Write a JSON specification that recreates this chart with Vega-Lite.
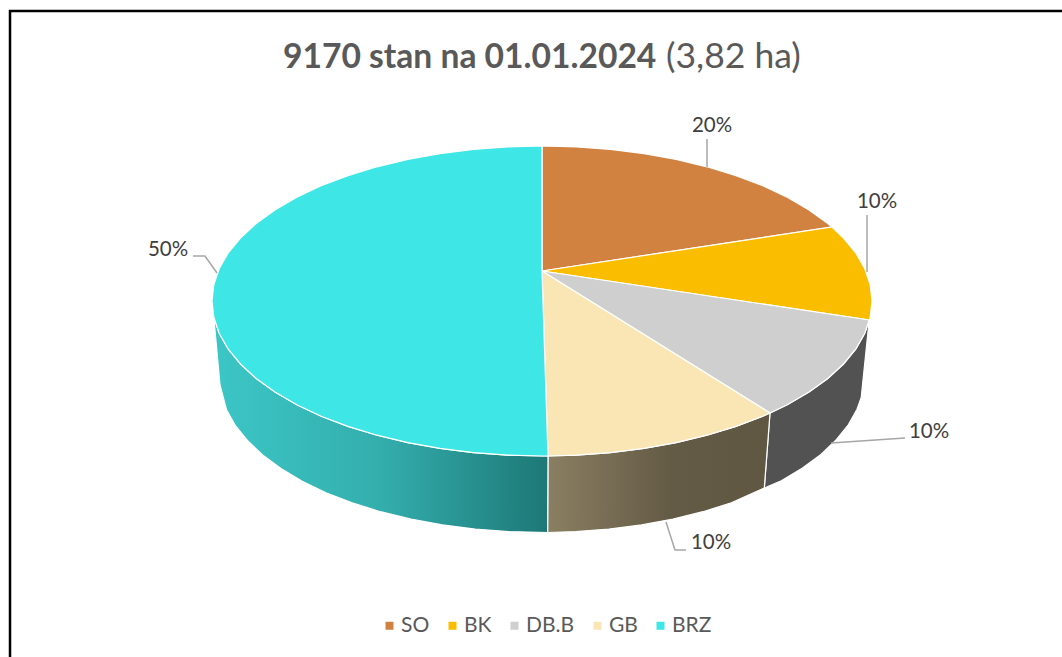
{"$schema":"https://vega.github.io/schema/vega-lite/v6.json","width":1062,"height":657,"autosize":{"type":"none"},"padding":0,"background":"#ffffff","config":{"view":{"stroke":null}},
"datasets":{"outline":[
{"part":"top","slice":"SO","i":0,"x":542,"y":271},{"part":"top","slice":"SO","i":1,"x":542,"y":146},{"part":"top","slice":"SO","i":2,"x":576.5,"y":146.9},{"part":"top","slice":"SO","i":3,"x":610.6,"y":149.4},{"part":"top","slice":"SO","i":4,"x":644,"y":153.6},{"part":"top","slice":"SO","i":5,"x":676.2,"y":159.4},{"part":"top","slice":"SO","i":6,"x":707,"y":166.8},{"part":"top","slice":"SO","i":7,"x":736,"y":175.6},{"part":"top","slice":"SO","i":8,"x":762.8,"y":185.8},{"part":"top","slice":"SO","i":9,"x":787.2,"y":197.3},{"part":"top","slice":"SO","i":10,"x":809,"y":209.9},{"part":"top","slice":"SO","i":11,"x":827.8,"y":223.5},{"part":"top","slice":"SO","i":12,"x":832,"y":227},{"part":"top","slice":"SO","i":13,"x":542,"y":271},
{"part":"top","slice":"BK","i":0,"x":542,"y":271},{"part":"top","slice":"BK","i":1,"x":832,"y":227},{"part":"top","slice":"BK","i":2,"x":843.5,"y":238},{"part":"top","slice":"BK","i":3,"x":855.9,"y":253.1},{"part":"top","slice":"BK","i":4,"x":864.8,"y":268.8},{"part":"top","slice":"BK","i":5,"x":870.2,"y":284.8},{"part":"top","slice":"BK","i":6,"x":872,"y":301},{"part":"top","slice":"BK","i":7,"x":870.2,"y":317.2},{"part":"top","slice":"BK","i":8,"x":869.2,"y":320},{"part":"top","slice":"BK","i":9,"x":542,"y":271},
{"part":"top","slice":"DB.B","i":0,"x":542,"y":271},{"part":"top","slice":"DB.B","i":1,"x":869.2,"y":320},{"part":"top","slice":"DB.B","i":2,"x":864.8,"y":333.2},{"part":"top","slice":"DB.B","i":3,"x":855.9,"y":348.9},{"part":"top","slice":"DB.B","i":4,"x":843.5,"y":364},{"part":"top","slice":"DB.B","i":5,"x":827.8,"y":378.5},{"part":"top","slice":"DB.B","i":6,"x":809,"y":392.1},{"part":"top","slice":"DB.B","i":7,"x":787.2,"y":404.7},{"part":"top","slice":"DB.B","i":8,"x":770,"y":413},{"part":"top","slice":"DB.B","i":9,"x":542,"y":271},
{"part":"top","slice":"GB","i":0,"x":542,"y":271},{"part":"top","slice":"GB","i":1,"x":770,"y":413},{"part":"top","slice":"GB","i":2,"x":762.8,"y":416.2},{"part":"top","slice":"GB","i":3,"x":736,"y":426.4},{"part":"top","slice":"GB","i":4,"x":707,"y":435.2},{"part":"top","slice":"GB","i":5,"x":676.2,"y":442.6},{"part":"top","slice":"GB","i":6,"x":644,"y":448.4},{"part":"top","slice":"GB","i":7,"x":610.6,"y":452.6},{"part":"top","slice":"GB","i":8,"x":576.5,"y":455.1},{"part":"top","slice":"GB","i":9,"x":548,"y":456},{"part":"top","slice":"GB","i":10,"x":542,"y":271},
{"part":"top","slice":"BRZ","i":0,"x":542,"y":271},{"part":"top","slice":"BRZ","i":1,"x":548,"y":456},{"part":"top","slice":"BRZ","i":2,"x":542,"y":456},{"part":"top","slice":"BRZ","i":3,"x":507.5,"y":455.1},{"part":"top","slice":"BRZ","i":4,"x":473.4,"y":452.6},{"part":"top","slice":"BRZ","i":5,"x":440,"y":448.4},{"part":"top","slice":"BRZ","i":6,"x":407.8,"y":442.6},{"part":"top","slice":"BRZ","i":7,"x":377,"y":435.2},{"part":"top","slice":"BRZ","i":8,"x":348,"y":426.4},{"part":"top","slice":"BRZ","i":9,"x":321.2,"y":416.2},{"part":"top","slice":"BRZ","i":10,"x":296.8,"y":404.7},{"part":"top","slice":"BRZ","i":11,"x":275,"y":392.1},{"part":"top","slice":"BRZ","i":12,"x":256.2,"y":378.5},{"part":"top","slice":"BRZ","i":13,"x":240.5,"y":364},{"part":"top","slice":"BRZ","i":14,"x":228.1,"y":348.9},{"part":"top","slice":"BRZ","i":15,"x":219.2,"y":333.2},{"part":"top","slice":"BRZ","i":16,"x":213.8,"y":317.2},{"part":"top","slice":"BRZ","i":17,"x":212,"y":301},{"part":"top","slice":"BRZ","i":18,"x":213.8,"y":284.8},{"part":"top","slice":"BRZ","i":19,"x":219.2,"y":268.8},{"part":"top","slice":"BRZ","i":20,"x":228.1,"y":253.1},{"part":"top","slice":"BRZ","i":21,"x":240.5,"y":238},{"part":"top","slice":"BRZ","i":22,"x":256.2,"y":223.5},{"part":"top","slice":"BRZ","i":23,"x":275,"y":209.9},{"part":"top","slice":"BRZ","i":24,"x":296.8,"y":197.3},{"part":"top","slice":"BRZ","i":25,"x":321.2,"y":185.8},{"part":"top","slice":"BRZ","i":26,"x":348,"y":175.6},{"part":"top","slice":"BRZ","i":27,"x":377,"y":166.8},{"part":"top","slice":"BRZ","i":28,"x":407.8,"y":159.4},{"part":"top","slice":"BRZ","i":29,"x":440,"y":153.6},{"part":"top","slice":"BRZ","i":30,"x":473.4,"y":149.4},{"part":"top","slice":"BRZ","i":31,"x":507.5,"y":146.9},{"part":"top","slice":"BRZ","i":32,"x":542,"y":146},{"part":"top","slice":"BRZ","i":33,"x":542,"y":271},
{"part":"side","slice":"DB.B","i":0,"x":869.2,"y":320},{"part":"side","slice":"DB.B","i":1,"x":864.8,"y":333.2},{"part":"side","slice":"DB.B","i":2,"x":855.9,"y":348.9},{"part":"side","slice":"DB.B","i":3,"x":843.5,"y":364},{"part":"side","slice":"DB.B","i":4,"x":827.8,"y":378.5},{"part":"side","slice":"DB.B","i":5,"x":809,"y":392.1},{"part":"side","slice":"DB.B","i":6,"x":787.2,"y":404.7},{"part":"side","slice":"DB.B","i":7,"x":770,"y":413},{"part":"side","slice":"DB.B","i":8,"x":764.3,"y":488},{"part":"side","slice":"DB.B","i":9,"x":781.3,"y":480.7},{"part":"side","slice":"DB.B","i":10,"x":802.5,"y":468.1},{"part":"side","slice":"DB.B","i":11,"x":820.9,"y":454.5},{"part":"side","slice":"DB.B","i":12,"x":836.1,"y":440},{"part":"side","slice":"DB.B","i":13,"x":848.3,"y":424.9},{"part":"side","slice":"DB.B","i":14,"x":857,"y":409.2},{"part":"side","slice":"DB.B","i":15,"x":861.2,"y":397.5},{"part":"side","slice":"DB.B","i":16,"x":869.2,"y":320},
{"part":"side","slice":"GB","i":0,"x":770,"y":413},{"part":"side","slice":"GB","i":1,"x":762.8,"y":416.2},{"part":"side","slice":"GB","i":2,"x":736,"y":426.4},{"part":"side","slice":"GB","i":3,"x":707,"y":435.2},{"part":"side","slice":"GB","i":4,"x":676.2,"y":442.6},{"part":"side","slice":"GB","i":5,"x":644,"y":448.4},{"part":"side","slice":"GB","i":6,"x":610.6,"y":452.6},{"part":"side","slice":"GB","i":7,"x":576.5,"y":455.1},{"part":"side","slice":"GB","i":8,"x":548,"y":456},{"part":"side","slice":"GB","i":9,"x":547.6,"y":532.5},{"part":"side","slice":"GB","i":10,"x":575.6,"y":531.6},{"part":"side","slice":"GB","i":11,"x":608.9,"y":529.1},{"part":"side","slice":"GB","i":12,"x":641.5,"y":524.9},{"part":"side","slice":"GB","i":13,"x":673,"y":519.1},{"part":"side","slice":"GB","i":14,"x":703,"y":511.7},{"part":"side","slice":"GB","i":15,"x":731.3,"y":502.9},{"part":"side","slice":"GB","i":16,"x":757.5,"y":491},{"part":"side","slice":"GB","i":17,"x":764.3,"y":488},{"part":"side","slice":"GB","i":18,"x":770,"y":413},
{"part":"side","slice":"BRZ","i":0,"x":548,"y":456},{"part":"side","slice":"BRZ","i":1,"x":542,"y":456},{"part":"side","slice":"BRZ","i":2,"x":507.5,"y":455.1},{"part":"side","slice":"BRZ","i":3,"x":473.4,"y":452.6},{"part":"side","slice":"BRZ","i":4,"x":440,"y":448.4},{"part":"side","slice":"BRZ","i":5,"x":407.8,"y":442.6},{"part":"side","slice":"BRZ","i":6,"x":377,"y":435.2},{"part":"side","slice":"BRZ","i":7,"x":348,"y":426.4},{"part":"side","slice":"BRZ","i":8,"x":321.2,"y":416.2},{"part":"side","slice":"BRZ","i":9,"x":296.8,"y":404.7},{"part":"side","slice":"BRZ","i":10,"x":275,"y":392.1},{"part":"side","slice":"BRZ","i":11,"x":256.2,"y":378.5},{"part":"side","slice":"BRZ","i":12,"x":240.5,"y":364},{"part":"side","slice":"BRZ","i":13,"x":228.1,"y":348.9},{"part":"side","slice":"BRZ","i":14,"x":219.2,"y":333.2},{"part":"side","slice":"BRZ","i":15,"x":213.8,"y":317.2},{"part":"side","slice":"BRZ","i":16,"x":220,"y":385},{"part":"side","slice":"BRZ","i":17,"x":226.5,"y":409.7},{"part":"side","slice":"BRZ","i":18,"x":235.2,"y":425.4},{"part":"side","slice":"BRZ","i":19,"x":247.4,"y":440.5},{"part":"side","slice":"BRZ","i":20,"x":262.6,"y":455},{"part":"side","slice":"BRZ","i":21,"x":281,"y":468.6},{"part":"side","slice":"BRZ","i":22,"x":302.2,"y":481.2},{"part":"side","slice":"BRZ","i":23,"x":326,"y":492.7},{"part":"side","slice":"BRZ","i":24,"x":352.2,"y":502.9},{"part":"side","slice":"BRZ","i":25,"x":380.5,"y":511.7},{"part":"side","slice":"BRZ","i":26,"x":411,"y":519.1},{"part":"side","slice":"BRZ","i":27,"x":442.5,"y":524.9},{"part":"side","slice":"BRZ","i":28,"x":475.1,"y":529.1},{"part":"side","slice":"BRZ","i":29,"x":508.4,"y":531.6},{"part":"side","slice":"BRZ","i":30,"x":547.6,"y":532.5},{"part":"side","slice":"BRZ","i":31,"x":548,"y":456}
],
"leaders":[
{"slice":"SO","i":0,"x":707,"y":139},{"slice":"SO","i":1,"x":707,"y":167},
{"slice":"BK","i":0,"x":867,"y":215},{"slice":"BK","i":1,"x":867,"y":272},
{"slice":"DB.B","i":0,"x":831,"y":443},{"slice":"DB.B","i":1,"x":905,"y":438},
{"slice":"GB","i":0,"x":666,"y":522},{"slice":"GB","i":1,"x":675,"y":550},{"slice":"GB","i":2,"x":686,"y":550},
{"slice":"BRZ","i":0,"x":193,"y":256},{"slice":"BRZ","i":1,"x":205,"y":256},{"slice":"BRZ","i":2,"x":217,"y":273}
],
"frame":[{"i":0,"x":10,"y":657},{"i":1,"x":10,"y":11},{"i":2,"x":1062,"y":11}],
"labels":[{"label":"20%","x":712,"y":126},{"label":"10%","x":877,"y":202},{"label":"10%","x":929,"y":432},{"label":"10%","x":711,"y":543},{"label":"50%","x":168,"y":250}],
"titleBold":[{"label":"9170 stan na 01.01.2024","x":283,"y":68}],
"titleReg":[{"label":"(3,82 ha)","x":666,"y":68}]
},
"encoding":{"x":{"field":"x","type":"quantitative","axis":null,"scale":{"domain":[0,1062],"nice":false,"zero":false}},"y":{"field":"y","type":"quantitative","axis":null,"scale":{"domain":[657,0],"nice":false,"zero":false}}},
"layer":[
{"data":{"name":"frame"},"mark":{"type":"line","stroke":"#000000","strokeWidth":2.5,"strokeCap":"butt"},"encoding":{"order":{"field":"i"}}},
{"data":{"name":"outline"},"transform":[{"filter":"datum.part==='side' && datum.slice==='DB.B'"}],"mark":{"type":"line","fill":"#525252","stroke":"#ffffff","strokeWidth":1.2},"encoding":{"order":{"field":"i"}}},
{"data":{"name":"outline"},"transform":[{"filter":"datum.part==='side' && datum.slice==='GB'"}],"mark":{"type":"line","fill":{"gradient":"linear","x1":0,"y1":0,"x2":1,"y2":0,"stops":[{"offset":0,"color":"#8A7F62"},{"offset":0.55,"color":"#645B46"},{"offset":1,"color":"#5F5742"}]},"stroke":"#ffffff","strokeWidth":1.2},"encoding":{"order":{"field":"i"}}},
{"data":{"name":"outline"},"transform":[{"filter":"datum.part==='side' && datum.slice==='BRZ'"}],"mark":{"type":"line","fill":{"gradient":"linear","x1":0,"y1":0,"x2":1,"y2":0,"stops":[{"offset":0,"color":"#3CC6C6"},{"offset":0.5,"color":"#33AEAD"},{"offset":1,"color":"#1D7876"}]},"stroke":"#ffffff","strokeWidth":1.2},"encoding":{"order":{"field":"i"}}},
{"data":{"name":"outline"},"transform":[{"filter":"datum.part==='top'"}],"mark":{"type":"line","stroke":"#ffffff","strokeWidth":1.2},"encoding":{"order":{"field":"i"},"fill":{"field":"slice","type":"nominal","scale":{"domain":["SO","BK","DB.B","GB","BRZ"],"range":["#D28240","#FBBD00","#CFCFCF","#FAE6B4","#3EE6E6"]},"legend":{"orient":"none","legendX":379,"legendY":615,"direction":"horizontal","columns":5,"title":null,"symbolType":"square","symbolSize":64,"symbolStrokeWidth":0,"labelFont":"Lato","labelFontSize":21,"labelColor":"#595959","labelOffset":1,"columnPadding":12}}}},
{"data":{"name":"leaders"},"mark":{"type":"line","stroke":"#A6A6A6","strokeWidth":1.5},"encoding":{"order":{"field":"i"},"detail":{"field":"slice"}}},
{"data":{"name":"labels"},"mark":{"type":"text","font":"Lato","fontSize":20.5,"color":"#404040"},"encoding":{"text":{"field":"label"}}},
{"data":{"name":"titleBold"},"mark":{"type":"text","font":"Lato","fontSize":33.6,"fontWeight":"bold","color":"#595959","align":"left","baseline":"alphabetic"},"encoding":{"text":{"field":"label"}}},
{"data":{"name":"titleReg"},"mark":{"type":"text","font":"Lato","fontSize":35.5,"color":"#595959","align":"left","baseline":"alphabetic"},"encoding":{"text":{"field":"label"}}}
]}
